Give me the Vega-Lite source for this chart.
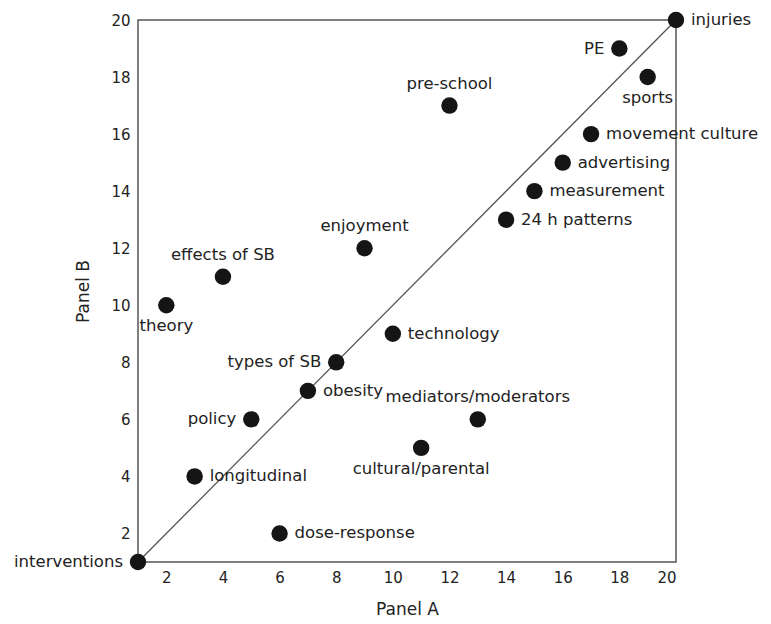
{
  "$schema": "https://vega.github.io/schema/vega-lite/v6.json",
  "width": 538,
  "height": 542,
  "autosize": "none",
  "padding": {"left": 138, "top": 20, "right": 95, "bottom": 62},
  "background": "white",
  "config": {
    "font": "DejaVu Sans",
    "view": {"stroke": "#555555", "strokeWidth": 1.5},
    "axis": {"grid": false, "ticks": false, "domain": false, "labelFont": "DejaVu Sans", "labelFontSize": 15, "labelColor": "#222", "titleFont": "DejaVu Sans", "titleFontSize": 17, "titleFontWeight": "normal", "titleColor": "#222"}
  },
  "datasets": {
    "topics": [
      {"topic": "interventions", "a": 1, "b": 1},
      {"topic": "injuries", "a": 20, "b": 20},
      {"topic": "PE", "a": 18, "b": 19},
      {"topic": "sports", "a": 19, "b": 18},
      {"topic": "pre-school", "a": 12, "b": 17},
      {"topic": "movement culture", "a": 17, "b": 16},
      {"topic": "advertising", "a": 16, "b": 15},
      {"topic": "measurement", "a": 15, "b": 14},
      {"topic": "24 h patterns", "a": 14, "b": 13},
      {"topic": "enjoyment", "a": 9, "b": 12},
      {"topic": "effects of SB", "a": 4, "b": 11},
      {"topic": "theory", "a": 2, "b": 10},
      {"topic": "technology", "a": 10, "b": 9},
      {"topic": "types of SB", "a": 8, "b": 8},
      {"topic": "obesity", "a": 7, "b": 7},
      {"topic": "policy", "a": 5, "b": 6},
      {"topic": "mediators/moderators", "a": 13, "b": 6},
      {"topic": "cultural/parental", "a": 11, "b": 5},
      {"topic": "longitudinal", "a": 3, "b": 4},
      {"topic": "dose-response", "a": 6, "b": 2}
    ],
    "diag": [
      {"a": 1, "b": 1},
      {"a": 20, "b": 20}
    ]
  },
  "encoding": {
    "x": {"field": "a", "type": "quantitative", "title": "Panel A", "scale": {"domain": [1, 20], "nice": false, "zero": false},
      "axis": {"values": [2, 4, 6, 8, 10, 12, 14, 16, 18, 20], "labelPadding": 8, "titlePadding": 16}},
    "y": {"field": "b", "type": "quantitative", "title": "Panel B", "scale": {"domain": [1, 20], "nice": false, "zero": false},
      "axis": {"values": [2, 4, 6, 8, 10, 12, 14, 16, 18, 20], "labelPadding": 8, "titlePadding": 18}}
  },
  "layer": [
    {"data": {"name": "diag"}, "mark": {"type": "line", "color": "#555555", "strokeWidth": 1.3}, "encoding": {}},
    {"data": {"name": "topics"}, "mark": {"type": "point", "filled": true, "size": 270, "color": "#151515", "opacity": 1}, "encoding": {}},
    {"data": {"name": "topics"},
      "transform": [{"filter": {"field": "topic", "oneOf": ["injuries", "movement culture", "advertising", "measurement", "24 h patterns", "technology", "obesity", "longitudinal", "dose-response"]}}],
      "mark": {"type": "text", "align": "left", "baseline": "middle", "dx": 15, "fontSize": 16.5, "color": "#222"},
      "encoding": {"text": {"field": "topic"}}},
    {"data": {"name": "topics"},
      "transform": [{"filter": {"field": "topic", "oneOf": ["interventions", "PE", "types of SB", "policy"]}}],
      "mark": {"type": "text", "align": "right", "baseline": "middle", "dx": -15, "fontSize": 16.5, "color": "#222"},
      "encoding": {"text": {"field": "topic"}}},
    {"data": {"name": "topics"},
      "transform": [{"filter": {"field": "topic", "oneOf": ["pre-school", "enjoyment", "effects of SB", "mediators/moderators"]}}],
      "mark": {"type": "text", "align": "center", "baseline": "middle", "dy": -22, "fontSize": 16.5, "color": "#222"},
      "encoding": {"text": {"field": "topic"}}},
    {"data": {"name": "topics"},
      "transform": [{"filter": {"field": "topic", "oneOf": ["theory", "sports", "cultural/parental"]}}],
      "mark": {"type": "text", "align": "center", "baseline": "middle", "dy": 21, "fontSize": 16.5, "color": "#222"},
      "encoding": {"text": {"field": "topic"}}}
  ]
}
